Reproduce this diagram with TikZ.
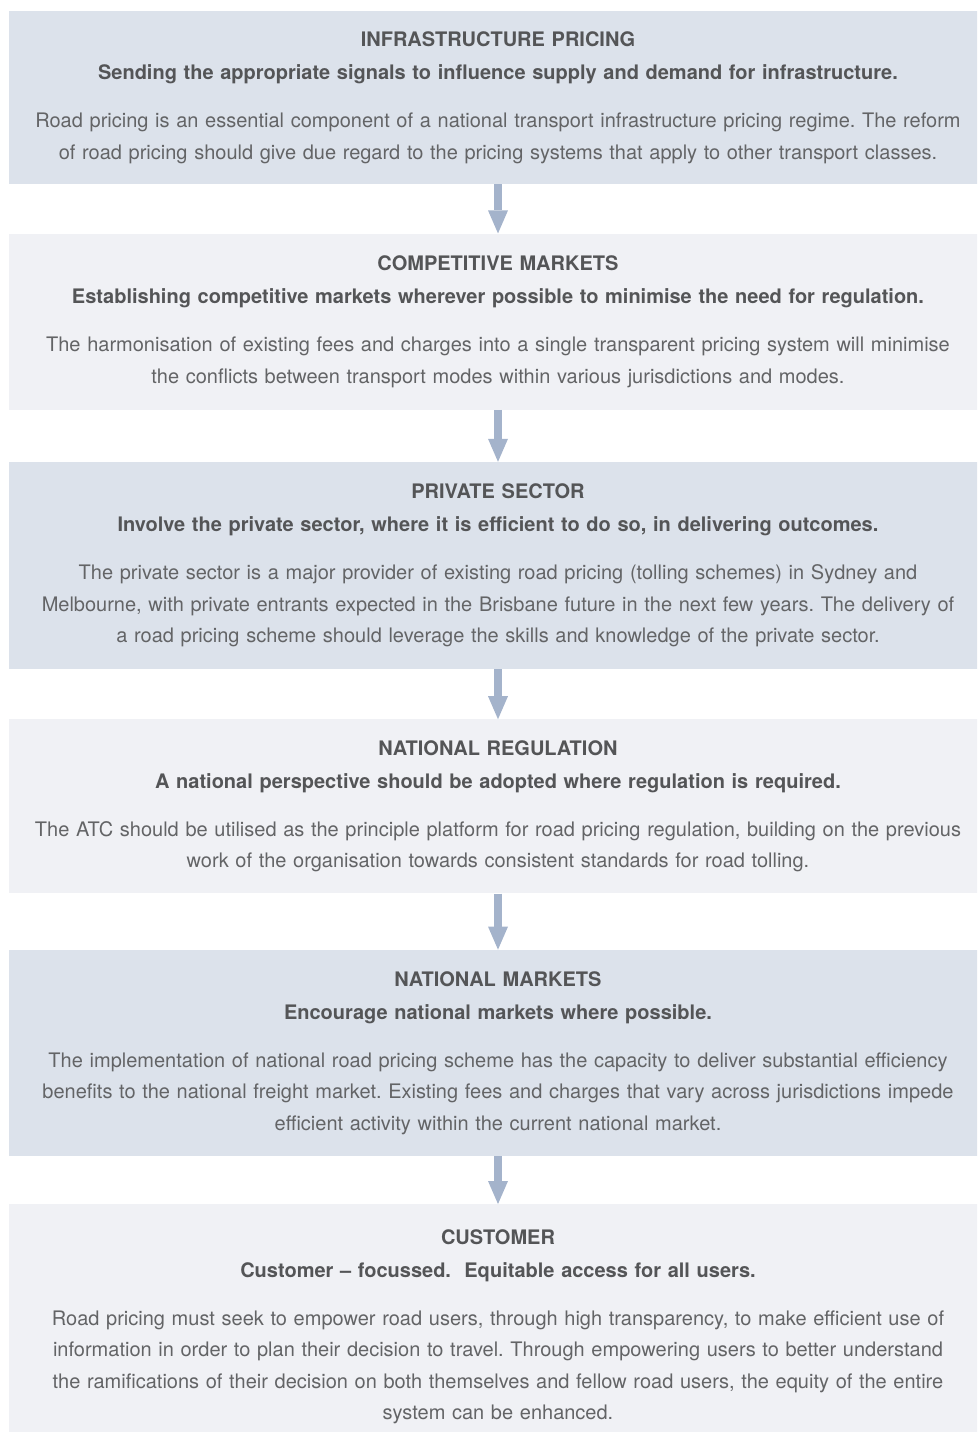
\documentclass[tikz,border=0pt]{standalone}
\usepackage{fontspec}
\setmainfont{TeX Gyre Heros}
\usetikzlibrary{arrows.meta,positioning}
\frenchspacing

\definecolor{boxblue}{HTML}{DCE2EB}
\definecolor{boxgrey}{HTML}{F0F1F5}
\definecolor{arrowblue}{HTML}{A4B3CB}
\definecolor{headgrey}{HTML}{545557}
\definecolor{bodygrey}{HTML}{636466}

\newcommand{\stagehead}[2]{{\color{headgrey}\bfseries #1}\\[1.5pt]{\color{headgrey}\bfseries #2}\\[16.5pt]}

\tikzset{
  stage/.style={rectangle, minimum width=978pt, text width=970pt, align=center,
                inner sep=0pt, text=bodygrey, font=\fontsize{20}{31.5}\selectfont},
  blue stage/.style={stage, fill=boxblue},
  grey stage/.style={stage, fill=boxgrey},
  flow/.style={draw=arrowblue, line width=8pt,
               -{Triangle[width=20pt,length=23pt,line width=0pt]}},
}

\begin{document}
\begin{tikzpicture}[x=1pt,y=1pt]
    \clip (0,0) rectangle (977,-1432);

    \node[blue stage, anchor=north, minimum height=173pt] (infra) at (498,-11)
        {\stagehead{INFRASTRUCTURE PRICING}{Sending the appropriate signals to influence supply and demand for infrastructure.}
         Road pricing is an essential component of a national transport infrastructure pricing regime. The reform\\
         of road pricing should give due regard to the pricing systems that apply to other transport classes.};
    \node[grey stage, minimum height=176pt, below=49pt of infra] (compet)
        {\stagehead{COMPETITIVE MARKETS}{Establishing competitive markets wherever possible to minimise the need for regulation.}
         The harmonisation of existing fees and charges into a single transparent pricing system will minimise\\
         the conflicts between transport modes within various jurisdictions and modes.};
    \node[blue stage, minimum height=207pt, below=52pt of compet] (private)
        {\stagehead{PRIVATE SECTOR}{Involve the private sector, where it is efficient to do so, in delivering outcomes.}
         The private sector is a major provider of existing road pricing (tolling schemes) in Sydney and\\
         Melbourne, with private entrants expected in the Brisbane future in the next few years. The delivery of\\
         a road pricing scheme should leverage the skills and knowledge of the private sector.};
    \node[grey stage, minimum height=174pt, below=50pt of private] (natreg)
        {\stagehead{NATIONAL REGULATION}{A national perspective should be adopted where regulation is required.}
         The ATC should be utilised as the principle platform for road pricing regulation, building on the previous\\
         work of the organisation towards consistent standards for road tolling.};
    \node[blue stage, minimum height=206pt, below=56pt of natreg] (natmkt)
        {\stagehead{NATIONAL MARKETS}{Encourage national markets where possible.}
         The implementation of national road pricing scheme has the capacity to deliver substantial efficiency\\
         benefits to the national freight market. Existing fees and charges that vary across jurisdictions impede\\
         efficient activity within the current national market.};
    \node[grey stage, minimum height=245pt, below=48pt of natmkt] (customer)
        {\stagehead{CUSTOMER}{Customer -- focussed.\ \ Equitable access for all users.}
         Road pricing must seek to empower road users, through high transparency, to make efficient use of\\
         information in order to plan their decision to travel. Through empowering users to better understand\\
         the ramifications of their decision on both themselves and fellow road users, the equity of the entire\\
         system can be enhanced.};

    \draw[flow] (infra)   -- (compet);
    \draw[flow] (compet)  -- (private);
    \draw[flow] (private) -- (natreg);
    \draw[flow] (natreg)  -- (natmkt);
    \draw[flow] (natmkt)  -- (customer);
\end{tikzpicture}
\end{document}
